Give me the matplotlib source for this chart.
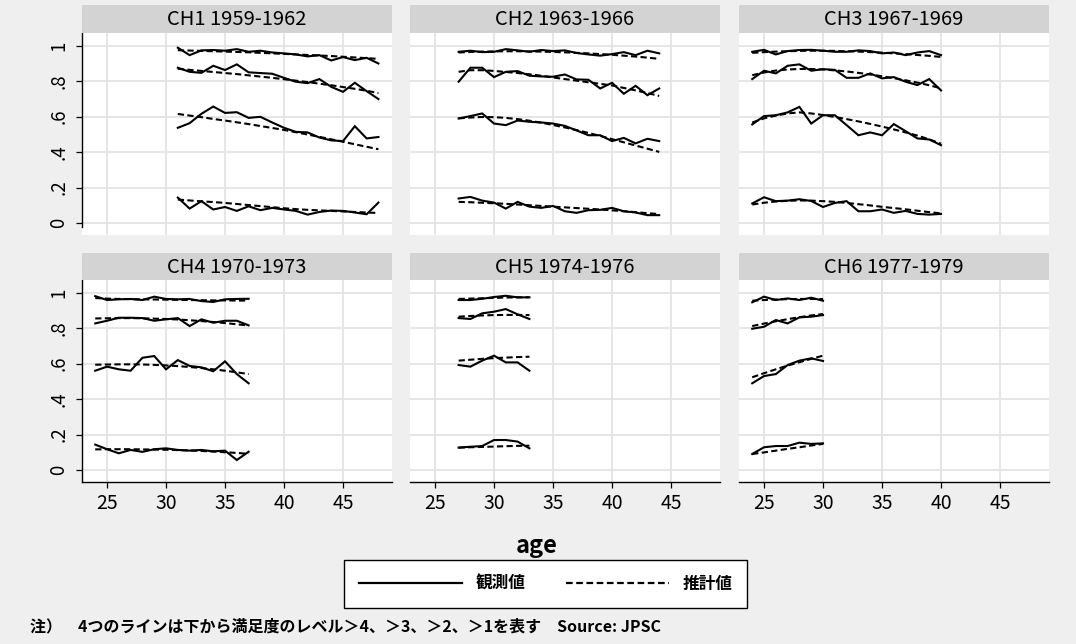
import matplotlib.pyplot as plt

plt.rcParams['font.family'] = ['Noto Sans CJK JP', 'DejaVu Sans']

W, H = 1076, 644

titles = ["CH1 1959-1962", "CH2 1963-1966", "CH3 1967-1969",
          "CH4 1970-1973", "CH5 1974-1976", "CH6 1977-1979"]

# each panel: ages, observed shares (levels >1, >2, >3, >4), fitted shares
ch1_ages = list(range(31, 49))
ch1_obs = [
    [0.989, 0.947, 0.974, 0.976, 0.972, 0.981, 0.966, 0.972, 0.962, 0.957, 0.951, 0.940, 0.947, 0.917, 0.936, 0.919, 0.932, 0.900],
    [0.876, 0.853, 0.847, 0.887, 0.863, 0.895, 0.850, 0.846, 0.842, 0.819, 0.797, 0.789, 0.812, 0.768, 0.740, 0.791, 0.744, 0.699],
    [0.537, 0.563, 0.616, 0.657, 0.621, 0.625, 0.593, 0.599, 0.567, 0.537, 0.514, 0.511, 0.482, 0.466, 0.462, 0.546, 0.477, 0.485],
    [0.143, 0.081, 0.123, 0.076, 0.090, 0.068, 0.094, 0.072, 0.085, 0.076, 0.068, 0.047, 0.062, 0.070, 0.068, 0.059, 0.049, 0.115],
]
ch1_fit = [
    [0.975, 0.973, 0.971, 0.969, 0.967, 0.965, 0.963, 0.960, 0.957, 0.954, 0.951, 0.948, 0.945, 0.942, 0.938, 0.934, 0.930, 0.926],
    [0.870, 0.864, 0.858, 0.852, 0.846, 0.840, 0.833, 0.826, 0.819, 0.811, 0.803, 0.795, 0.786, 0.777, 0.767, 0.757, 0.746, 0.733],
    [0.615, 0.606, 0.597, 0.587, 0.578, 0.568, 0.558, 0.547, 0.536, 0.525, 0.512, 0.499, 0.486, 0.472, 0.458, 0.444, 0.430, 0.416],
    [0.132, 0.127, 0.122, 0.118, 0.113, 0.107, 0.101, 0.095, 0.089, 0.083, 0.078, 0.074, 0.071, 0.068, 0.065, 0.062, 0.059, 0.056],
]

ch2_ages = list(range(27, 45))
ch2_obs = [
    [0.966, 0.972, 0.964, 0.966, 0.981, 0.974, 0.966, 0.976, 0.970, 0.974, 0.959, 0.951, 0.944, 0.953, 0.964, 0.947, 0.972, 0.957],
    [0.797, 0.876, 0.876, 0.823, 0.853, 0.857, 0.831, 0.827, 0.825, 0.838, 0.810, 0.808, 0.759, 0.791, 0.729, 0.774, 0.721, 0.759],
    [0.590, 0.603, 0.618, 0.561, 0.552, 0.578, 0.571, 0.567, 0.561, 0.548, 0.522, 0.495, 0.495, 0.462, 0.480, 0.449, 0.475, 0.462],
    [0.138, 0.147, 0.126, 0.115, 0.081, 0.119, 0.092, 0.085, 0.096, 0.066, 0.057, 0.072, 0.074, 0.085, 0.066, 0.059, 0.044, 0.044],
]
ch2_fit = [
    [0.962, 0.965, 0.967, 0.968, 0.969, 0.969, 0.968, 0.967, 0.965, 0.963, 0.960, 0.957, 0.953, 0.949, 0.944, 0.939, 0.933, 0.926],
    [0.853, 0.862, 0.862, 0.858, 0.852, 0.846, 0.839, 0.831, 0.821, 0.812, 0.803, 0.794, 0.785, 0.776, 0.762, 0.748, 0.733, 0.717],
    [0.590, 0.595, 0.598, 0.597, 0.593, 0.586, 0.577, 0.566, 0.553, 0.539, 0.524, 0.508, 0.491, 0.473, 0.455, 0.437, 0.419, 0.401],
    [0.119, 0.117, 0.114, 0.111, 0.108, 0.104, 0.100, 0.096, 0.092, 0.088, 0.084, 0.080, 0.076, 0.071, 0.066, 0.061, 0.055, 0.050],
]

ch3_ages = list(range(24, 41))
ch3_obs = [
    [0.966, 0.977, 0.951, 0.970, 0.976, 0.977, 0.972, 0.966, 0.966, 0.974, 0.970, 0.957, 0.962, 0.947, 0.962, 0.970, 0.947],
    [0.812, 0.859, 0.844, 0.887, 0.895, 0.859, 0.868, 0.864, 0.819, 0.819, 0.844, 0.816, 0.823, 0.797, 0.778, 0.812, 0.748],
    [0.556, 0.603, 0.608, 0.624, 0.655, 0.561, 0.608, 0.608, 0.552, 0.495, 0.511, 0.495, 0.558, 0.518, 0.477, 0.471, 0.439],
    [0.110, 0.145, 0.123, 0.126, 0.134, 0.124, 0.090, 0.113, 0.123, 0.066, 0.066, 0.076, 0.057, 0.068, 0.051, 0.047, 0.051],
]
ch3_fit = [
    [0.960, 0.964, 0.967, 0.969, 0.971, 0.972, 0.972, 0.971, 0.969, 0.967, 0.964, 0.961, 0.957, 0.953, 0.948, 0.943, 0.937],
    [0.834, 0.849, 0.860, 0.866, 0.869, 0.869, 0.866, 0.861, 0.855, 0.847, 0.838, 0.828, 0.817, 0.805, 0.792, 0.777, 0.760],
    [0.567, 0.590, 0.606, 0.618, 0.624, 0.618, 0.609, 0.598, 0.586, 0.573, 0.559, 0.544, 0.528, 0.511, 0.493, 0.472, 0.447],
    [0.104, 0.114, 0.121, 0.125, 0.127, 0.126, 0.123, 0.119, 0.113, 0.106, 0.099, 0.091, 0.084, 0.077, 0.069, 0.061, 0.054],
]

ch4_ages = list(range(24, 38))
ch4_obs = [
    [0.981, 0.959, 0.963, 0.965, 0.959, 0.978, 0.965, 0.963, 0.965, 0.953, 0.948, 0.963, 0.965, 0.966],
    [0.827, 0.842, 0.859, 0.859, 0.857, 0.842, 0.850, 0.857, 0.812, 0.850, 0.831, 0.842, 0.842, 0.816],
    [0.560, 0.583, 0.568, 0.560, 0.633, 0.643, 0.568, 0.620, 0.587, 0.579, 0.557, 0.613, 0.541, 0.489],
    [0.143, 0.117, 0.094, 0.113, 0.102, 0.117, 0.122, 0.113, 0.109, 0.113, 0.105, 0.109, 0.056, 0.103],
]
ch4_fit = [
    [0.970, 0.967, 0.965, 0.964, 0.963, 0.962, 0.961, 0.960, 0.959, 0.958, 0.957, 0.957, 0.956, 0.956],
    [0.855, 0.856, 0.857, 0.857, 0.856, 0.854, 0.852, 0.849, 0.845, 0.840, 0.835, 0.829, 0.822, 0.815],
    [0.594, 0.595, 0.596, 0.596, 0.595, 0.593, 0.590, 0.586, 0.581, 0.575, 0.568, 0.560, 0.551, 0.541],
    [0.116, 0.117, 0.117, 0.117, 0.116, 0.115, 0.114, 0.112, 0.110, 0.107, 0.104, 0.100, 0.096, 0.091],
]

ch5_ages = list(range(27, 34))
ch5_obs = [
    [0.959, 0.959, 0.966, 0.976, 0.983, 0.974, 0.974],
    [0.857, 0.852, 0.884, 0.893, 0.908, 0.878, 0.852],
    [0.592, 0.583, 0.617, 0.645, 0.607, 0.607, 0.560],
    [0.126, 0.131, 0.135, 0.169, 0.169, 0.160, 0.122],
]
ch5_fit = [
    [0.965, 0.967, 0.969, 0.971, 0.973, 0.974, 0.975],
    [0.865, 0.869, 0.872, 0.874, 0.875, 0.875, 0.874],
    [0.617, 0.622, 0.627, 0.631, 0.634, 0.637, 0.639],
    [0.126, 0.128, 0.130, 0.132, 0.134, 0.136, 0.137],
]

ch6_ages = list(range(24, 31))
ch6_obs = [
    [0.946, 0.978, 0.959, 0.968, 0.959, 0.972, 0.955],
    [0.797, 0.808, 0.846, 0.827, 0.861, 0.865, 0.874],
    [0.489, 0.530, 0.541, 0.592, 0.617, 0.630, 0.615],
    [0.090, 0.128, 0.135, 0.135, 0.154, 0.147, 0.150],
]
ch6_fit = [
    [0.955, 0.959, 0.962, 0.964, 0.965, 0.965, 0.964],
    [0.812, 0.826, 0.839, 0.851, 0.862, 0.872, 0.880],
    [0.523, 0.546, 0.568, 0.589, 0.608, 0.627, 0.645],
    [0.090, 0.099, 0.109, 0.119, 0.128, 0.138, 0.147],
]

panels = [
    (ch1_ages, ch1_obs, ch1_fit), (ch2_ages, ch2_obs, ch2_fit), (ch3_ages, ch3_obs, ch3_fit),
    (ch4_ages, ch4_obs, ch4_fit), (ch5_ages, ch5_obs, ch5_fit), (ch6_ages, ch6_obs, ch6_fit),
]

x_ticks = [25, 30, 35, 40, 45]
y_ticks = [0, 0.2, 0.4, 0.6, 0.8, 1.0]
y_labels = ["0", ".2", ".4", ".6", ".8", "1"]

bg = "#efefef"
dash = (0, (3.0, 1.6))

fig = plt.figure(figsize=(W / 100, H / 100), dpi=100, facecolor=bg)

col_x = [82, 410, 739]
row_top = [33, 280]
strip_top = [5, 253]
pw, ph = 310, 202

for i, (ages, obs, fit) in enumerate(panels):
    r, c = divmod(i, 3)
    x0 = col_x[c]
    ax = fig.add_axes([x0 / W, (H - row_top[r] - ph) / H, pw / W, ph / H])
    ax.set_facecolor("white")
    for o, f in zip(obs, fit):
        ax.plot(ages, o, color="black", lw=1.5, solid_joinstyle="miter")
        ax.plot(ages, f, color="black", lw=1.5, linestyle=dash)
    ax.set_xlim(22.88, 49.15)
    ax.set_ylim(-0.068, 1.072)
    ax.set_xticks(x_ticks)
    ax.set_yticks(y_ticks)
    ax.grid(True, color="#e4e4e4", lw=1.3)
    ax.set_axisbelow(True)
    for s in ax.spines.values():
        s.set_visible(False)
    if c == 0:
        ax.spines["left"].set_visible(True)
        ax.spines["left"].set_linewidth(1.0)
        if r == 0:
            ax.spines["left"].set_bounds(-0.024, 1.072)
        ax.set_yticklabels(y_labels, rotation=90, va="center", fontsize=13.5)
        ax.tick_params(axis="y", length=4, width=0.9, pad=5)
    else:
        ax.tick_params(axis="y", length=0, labelleft=False)
    if r == 1:
        ax.spines["bottom"].set_visible(True)
        ax.spines["bottom"].set_linewidth(1.0)
        ax.set_xticklabels([str(t) for t in x_ticks], fontsize=14)
        ax.tick_params(axis="x", length=4, width=0.9, pad=4)
    else:
        ax.tick_params(axis="x", length=0, labelbottom=False)

    sh = 28 if r == 0 else 27
    st = fig.add_axes([x0 / W, (H - strip_top[r] - sh) / H, pw / W, sh / H])
    st.set_facecolor("#d3d3d3")
    st.set_xticks([])
    st.set_yticks([])
    for s in st.spines.values():
        s.set_visible(False)
    st.text(0.5, 0.48, titles[i], ha="center", va="center", fontsize=14.5,
            transform=st.transAxes)

fig.text(537 / W, 1 - 546 / H, "age", ha="center", va="center",
         fontsize=17, fontweight="bold")

h_obs, = plt.plot([], [], color="black", lw=1.6)
h_fit, = plt.plot([], [], color="black", lw=1.6, linestyle=dash)
leg = fig.legend([h_obs, h_fit], ["観測値", "推計値"], ncol=2,
                 loc="center", bbox_to_anchor=(545.5 / W, 1 - 584 / H),
                 frameon=True, fancybox=False, edgecolor="black",
                 facecolor="white", framealpha=1,
                 prop={"weight": "bold", "size": 12},
                 handlelength=6.2, handletextpad=0.8, columnspacing=2.4,
                 borderpad=0.9)
leg.get_frame().set_linewidth(1.0)

fig.text(30 / W, 1 - 626 / H,
         "注）　4つのラインは下から満足度のレベル＞4、＞3、＞2、＞1を表す　Source: JPSC",
         ha="left", va="center", fontsize=11.5, fontweight="bold")

fig.savefig("out.png", dpi=100, facecolor=bg)
